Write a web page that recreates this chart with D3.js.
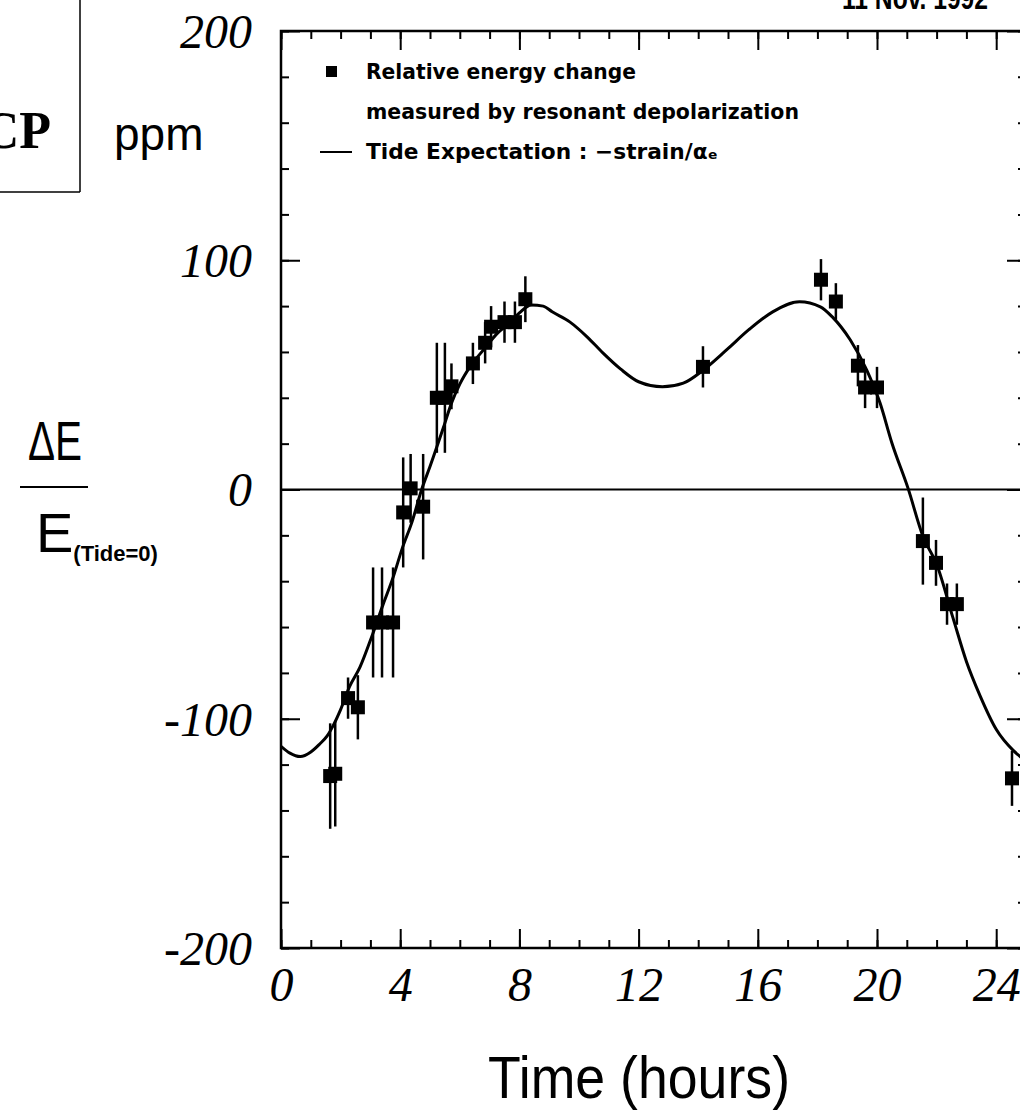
<!DOCTYPE html>
<html>
<head>
<meta charset="utf-8">
<script src="https://cdn.jsdelivr.net/npm/d3@7"></script>
<style>
  html, body { margin: 0; padding: 0; background: #fff; }
  svg { display: block; }
</style>
</head>
<body>
<svg id="chart" width="1020" height="1114"></svg>
<script>
// ---------- DATA ----------
// Measured points: time (hours), relative energy change (ppm), error (ppm)
const pointHours  = [1.65, 1.82, 2.25, 2.58, 3.09, 3.39, 3.76, 4.10, 4.35, 4.77, 5.23, 5.50, 5.72, 6.44, 6.85, 7.05, 7.50, 7.85, 8.20, 14.16, 18.12, 18.62, 19.36, 19.60, 20.00, 21.54, 21.98, 22.35, 22.68, 24.53];
const pointValues = [-125, -124, -91, -95, -58, -58, -58, -10, 0.5, -7.5, 40, 40, 45, 55, 64, 71, 73, 73, 83, 53.5, 91.5, 82, 54, 44.5, 44.5, -22.5, -32, -50, -50, -126];
const pointErrors = [23, 23, 9, 14, 24, 24, 24, 24, 15, 23, 24, 24, 10, 9, 9, 9, 9, 9, 10, 9, 9, 8, 9, 9, 9, 19, 10, 9, 9, 12];

// Tide expectation curve
const tideHours  = [0, 0.3, 0.65, 1.0, 1.3, 1.55, 1.75, 2.0, 2.3, 2.65, 3.05, 3.43, 3.77, 4.06, 4.4, 4.72, 5.0, 5.45, 5.73, 6.0, 6.34, 6.8, 7.25, 7.7, 8.0, 8.4, 8.8, 9.1, 9.7, 10.27, 10.8, 11.4, 12.0, 12.8, 13.5, 14.16, 14.96, 15.7, 16.5, 17.4, 18.1, 18.5, 19.1, 19.66, 20.1, 20.5, 21.04, 21.55, 22.0, 22.55, 23.0, 23.46, 24.0, 24.57, 24.85];
const tideValues = [-112, -115, -116.5, -114.5, -111, -107.5, -103, -96, -86, -77.5, -64, -50, -38, -26, -14, 0, 10, 27, 38, 46, 53.5, 61, 68, 73, 77, 80.5, 80, 77.5, 73, 66.6, 59.6, 52.5, 47, 44.8, 46.4, 52, 61, 69.7, 77.5, 81.9, 79.7, 75.3, 65.3, 52, 37.8, 20.3, 0.6, -20.7, -32.5, -56, -75, -90, -104.6, -113.8, -117];

const xTickLabels = [0, 4, 8, 12, 16, 20, 24];
const yTickLabels = [200, 100, 0, -100, -200];
const xMinorTicks = d3.range(0, 26, 1);
const yMinorTicks = d3.range(-200, 201, 20);

const legendLines = ["Relative energy change", "measured by resonant depolarization", "Tide Expectation : \u2212strain/\u03b1\u2091"];

// ---------- LAYOUT ----------
const svg = d3.select("#chart");
const L = 281, R = 1026, T = 31, B = 948;
const x = d3.scaleLinear().domain([0, 25]).range([L, R]);
const y = d3.scaleLinear().domain([-200, 200]).range([B, T]);

const serifIt = "'Liberation Serif', 'Times New Roman', serif";
const sans = "'Liberation Sans', Arial, sans-serif";

// clip
svg.append("defs").append("clipPath").attr("id", "plotclip")
  .append("rect").attr("x", L).attr("y", T).attr("width", R - L).attr("height", B - T);

// ---------- AXES ----------
function styleAxis(g) {
  g.select(".domain").remove();
  g.selectAll(".tick line").attr("stroke", "#000").attr("stroke-width", 2);
}
const plainFmt = d => String(d);   // ASCII hyphen as in the reference
// bottom
svg.append("g").attr("transform", `translate(0,${B})`)
  .call(d3.axisBottom(x).tickValues(xMinorTicks).tickSize(-8).tickFormat(""))
  .call(styleAxis);
svg.append("g").attr("transform", `translate(0,${B})`)
  .call(d3.axisBottom(x).tickValues(xTickLabels).tickSize(-19).tickPadding(19).tickFormat(plainFmt))
  .call(styleAxis)
  .call(g => g.selectAll(".tick text").attr("font-family", serifIt).attr("font-style", "italic")
      .attr("font-size", 48).attr("fill", "#000"));
// top
svg.append("g").attr("transform", `translate(0,${T})`)
  .call(d3.axisTop(x).tickValues(xMinorTicks).tickSize(-8).tickFormat(""))
  .call(styleAxis);
svg.append("g").attr("transform", `translate(0,${T})`)
  .call(d3.axisTop(x).tickValues(xTickLabels).tickSize(-19).tickFormat(""))
  .call(styleAxis);
// left
svg.append("g").attr("transform", `translate(${L},0)`)
  .call(d3.axisLeft(y).tickValues(yMinorTicks).tickSize(-8).tickFormat(""))
  .call(styleAxis);
svg.append("g").attr("transform", `translate(${L},0)`)
  .call(d3.axisLeft(y).tickValues(yTickLabels).tickSize(-19).tickPadding(29).tickFormat(plainFmt))
  .call(styleAxis)
  .call(g => g.selectAll(".tick text").attr("font-family", serifIt).attr("font-style", "italic")
      .attr("font-size", 48).attr("fill", "#000").attr("dy", "0.34em"));
// right
svg.append("g").attr("transform", `translate(${R},0)`)
  .call(d3.axisRight(y).tickValues(yMinorTicks).tickSize(-8).tickFormat(""))
  .call(styleAxis);
svg.append("g").attr("transform", `translate(${R},0)`)
  .call(d3.axisRight(y).tickValues(yTickLabels).tickSize(-19).tickFormat(""))
  .call(styleAxis);

// frame
svg.append("rect").attr("x", L).attr("y", T).attr("width", R - L).attr("height", B - T)
  .attr("fill", "none").attr("stroke", "#000").attr("stroke-width", 2.5);

// zero line
svg.append("line").attr("x1", L).attr("x2", R).attr("y1", y(0)).attr("y2", y(0))
  .attr("stroke", "#000").attr("stroke-width", 2);

// ---------- CURVE ----------
const tide = tideHours.map((h, i) => [h, tideValues[i]]);
svg.append("path").datum(tide)
  .attr("clip-path", "url(#plotclip)")
  .attr("fill", "none").attr("stroke", "#000").attr("stroke-width", 3)
  .attr("d", d3.line().x(d => x(d[0])).y(d => y(d[1])).curve(d3.curveMonotoneX));

// ---------- POINTS ----------
const pts = pointHours.map((h, i) => ({ h, v: pointValues[i], e: pointErrors[i] }));
const gp = svg.append("g").attr("clip-path", "url(#plotclip)");
gp.selectAll("line.err").data(pts).join("line").attr("class", "err")
  .attr("x1", d => x(d.h)).attr("x2", d => x(d.h))
  .attr("y1", d => y(d.v + d.e)).attr("y2", d => y(d.v - d.e))
  .attr("stroke", "#000").attr("stroke-width", 2.5);
gp.selectAll("rect.pt").data(pts).join("rect").attr("class", "pt")
  .attr("x", d => x(d.h) - 7).attr("y", d => y(d.v) - 7)
  .attr("width", 14).attr("height", 14).attr("fill", "#000");

// ---------- LEGEND ----------
const legFont = "'DejaVu Sans', sans-serif";
const legY = [79, 119, 159];
const legW = [270, 433, 352];
svg.append("rect").attr("x", 326).attr("y", legY[0] - 13).attr("width", 11).attr("height", 11).attr("fill", "#000");
svg.append("line").attr("x1", 320).attr("x2", 352).attr("y1", legY[2] - 7).attr("y2", legY[2] - 7)
  .attr("stroke", "#000").attr("stroke-width", 2);
legendLines.forEach((t, i) => {
  svg.append("text").attr("x", 366).attr("y", legY[i])
    .attr("font-family", legFont).attr("font-weight", "bold").attr("font-size", 21)
    .attr("textLength", legW[i]).attr("lengthAdjust", "spacingAndGlyphs")
    .text(t);
});

// ---------- OTHER TEXT ----------
svg.append("text").attr("x", 988).attr("y", 9).attr("text-anchor", "end")
  .attr("font-family", sans).attr("font-weight", "bold").attr("font-size", 32)
  .attr("textLength", 146).attr("lengthAdjust", "spacingAndGlyphs").text("11 Nov. 1992");

// top-left box
svg.append("line").attr("x1", 80).attr("x2", 80).attr("y1", 0).attr("y2", 192).attr("stroke", "#000").attr("stroke-width", 1.5);
svg.append("line").attr("x1", 0).attr("x2", 80).attr("y1", 192).attr("y2", 192).attr("stroke", "#000").attr("stroke-width", 1.5);
svg.append("text").attr("x", 51).attr("y", 148).attr("text-anchor", "end")
  .attr("font-family", "'Liberation Serif', serif").attr("font-weight", "bold").attr("font-size", 52).text("CP");

svg.append("text").attr("x", 114).attr("y", 150)
  .attr("font-family", sans).attr("font-size", 46).text("ppm");

// y-axis label fraction
svg.append("text").attr("x", 28).attr("y", 460)
  .attr("font-family", sans).attr("font-size", 56)
  .attr("textLength", 54).attr("lengthAdjust", "spacingAndGlyphs").text("\u0394E");
svg.append("line").attr("x1", 20).attr("x2", 88).attr("y1", 487).attr("y2", 487).attr("stroke", "#000").attr("stroke-width", 2);
const eLab = svg.append("text").attr("x", 36).attr("y", 552).attr("font-family", sans);
eLab.append("tspan").attr("font-size", 56).text("E");
eLab.append("tspan").attr("font-size", 22).attr("font-weight", "bold").attr("dy", 9).text("(Tide=0)");

// x-axis title
svg.append("text").attr("x", 639).attr("y", 1098).attr("text-anchor", "middle")
  .attr("font-family", sans).attr("font-size", 60)
  .attr("textLength", 302).attr("lengthAdjust", "spacingAndGlyphs").text("Time (hours)");
</script>
</body>
</html>
